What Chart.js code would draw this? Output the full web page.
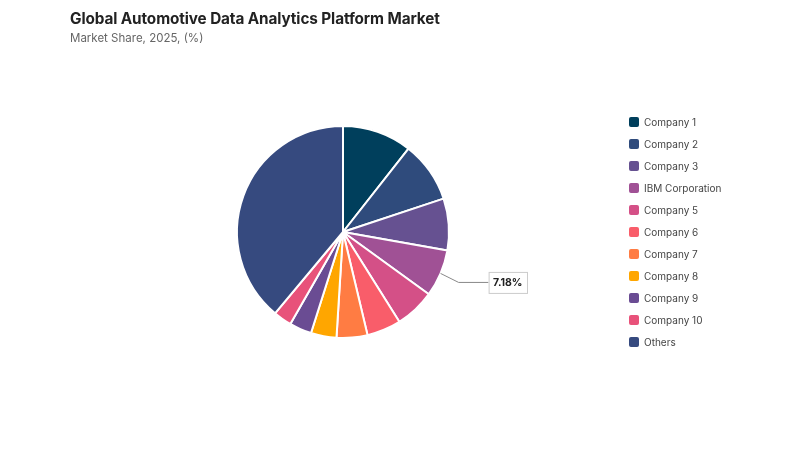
<!DOCTYPE html>
<html>
<head>
<meta charset="utf-8">
<script src="https://cdn.jsdelivr.net/npm/chart.js@4.4.1/dist/chart.umd.min.js"></script>
<style>
  html,body{margin:0;padding:0;background:#fff;}
  #wrap{position:relative;width:800px;height:450px;font-family:Inter,"Noto Sans",sans-serif;}
  #title{position:absolute;left:70px;top:9px;font-size:15.3px;font-weight:700;color:#222;letter-spacing:-0.1px;}
  #sub{position:absolute;left:70px;top:31px;font-size:11.5px;color:#666;}
  #legend{position:absolute;left:629px;top:111px;}
  .li{height:22px;display:flex;align-items:center;font-size:10px;color:#444;}
  .sw{width:10px;height:10px;border-radius:2px;margin-right:5px;}
  canvas{position:absolute;left:0;top:0;}
</style>
</head>
<body>
<div id="wrap">
  <canvas id="c" width="800" height="450"></canvas>
  <div id="title">Global Automotive Data Analytics Platform Market</div>
  <div id="sub">Market Share, 2025, (%)</div>
  <div id="legend"></div>
</div>
<script>
const categories = ["Company 1","Company 2","Company 3","IBM Corporation","Company 5","Company 6","Company 7","Company 8","Company 9","Company 10","Others"];
const shares = [10.6, 9.3, 7.9, 7.18, 6.1, 5.2, 4.7, 3.9, 3.4, 2.8, 38.92];
const colors = ["#003f5c","#2f4b7c","#665191","#a05195","#d45087","#f95d6a","#ff7c43","#ffa600","#6a4c93","#e8527a","#364a7f"];
const calloutIndex = 3;
const calloutText = "7.18%";

const leg = document.getElementById('legend');
categories.forEach((c,i)=>{
  const d=document.createElement('div');d.className='li';
  d.innerHTML='<span class="sw" style="background:'+colors[i]+'"></span><span>'+c+'</span>';
  leg.appendChild(d);
});

const callout = {
  id:'callout',
  afterDraw(chart){
    const arc = chart.getDatasetMeta(0).data[calloutIndex];
    if(!arc) return;
    const ctx = chart.ctx;
    const mid = (arc.startAngle + arc.endAngle)/2;
    const r = arc.outerRadius;
    const x0 = arc.x + Math.cos(mid)*r, y0 = arc.y + Math.sin(mid)*r;
    const x1 = arc.x + Math.cos(mid)*(r+12) + 7, y1 = y0 + 9;
    const x2 = x1 + 30;
    ctx.save();
    ctx.strokeStyle = '#888'; ctx.lineWidth = 1;
    ctx.beginPath(); ctx.moveTo(x0,y0); ctx.lineTo(x1,y1); ctx.lineTo(x2,y1); ctx.stroke();
    ctx.font = '700 10.5px Inter, "Noto Sans", sans-serif';
    const tw = ctx.measureText(calloutText).width;
    const bw = tw + 9, bh = 21;
    ctx.fillStyle = '#fff'; ctx.strokeStyle = '#ccc';
    ctx.fillRect(x2, y1 - bh/2, bw, bh);
    ctx.strokeRect(x2+0.5, y1 - bh/2 + 0.5, bw, bh);
    ctx.fillStyle = '#222'; ctx.textBaseline='middle'; ctx.textAlign='left';
    ctx.fillText(calloutText, x2 + 4.5, y1 + 0.5);
    ctx.restore();
  }
};

new Chart(document.getElementById('c'), {
  type:'pie',
  data:{labels:categories, datasets:[{data:shares, backgroundColor:colors, borderColor:'#fff', borderWidth:2}]},
  options:{
    responsive:false, animation:false,
    layout:{padding:{left:0,right:114,top:125,bottom:111}},
    plugins:{legend:{display:false}, tooltip:{enabled:false}, title:{display:false}}
  },
  plugins:[callout]
});
</script>
</body>
</html>
